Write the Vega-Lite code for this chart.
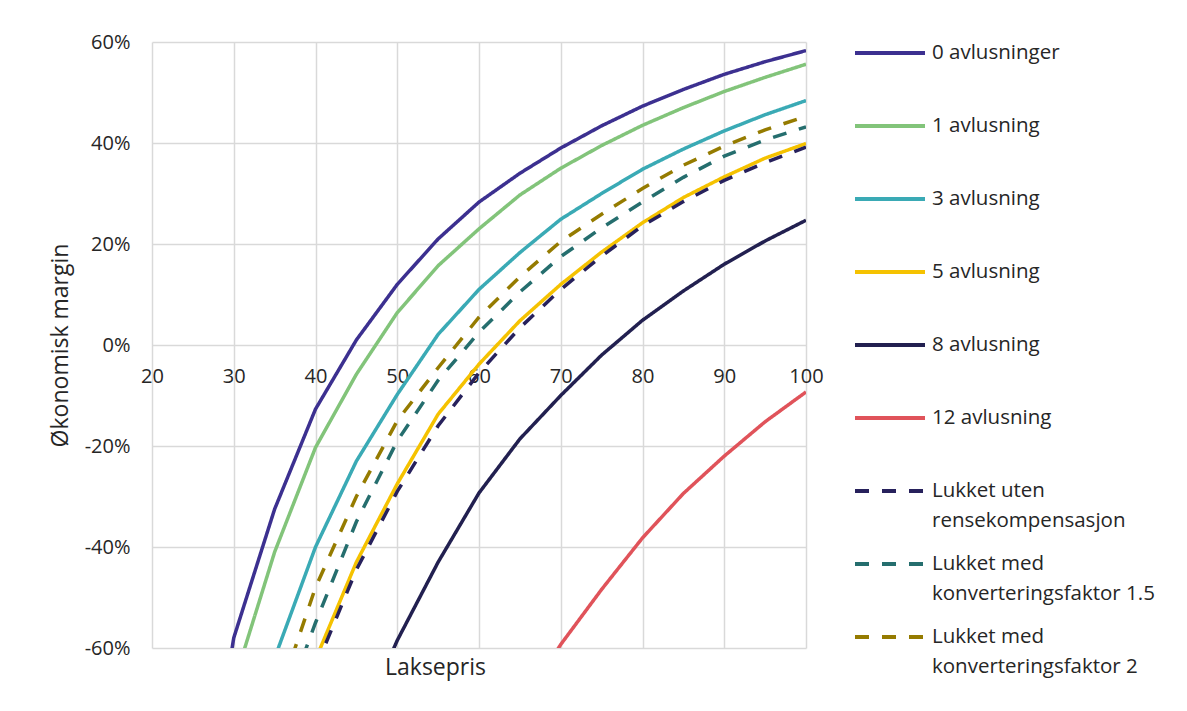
{
  "$schema": "https://vega.github.io/schema/vega-lite/v6.json",
  "width": 654,
  "height": 606,
  "autosize": {"type": "none"},
  "padding": {"left": 152, "top": 42, "right": 381, "bottom": 63},
  "background": "white",
  "config": {"font": "Open Sans", "view": {"stroke": null}},
  "data": {"values": [
    {"serie": "0 avlusninger", "pris": 25, "margin": -108},
    {"serie": "0 avlusninger", "pris": 30, "margin": -58},
    {"serie": "0 avlusninger", "pris": 35, "margin": -32.5},
    {"serie": "0 avlusninger", "pris": 40, "margin": -12.7},
    {"serie": "0 avlusninger", "pris": 45, "margin": 1},
    {"serie": "0 avlusninger", "pris": 50, "margin": 12},
    {"serie": "0 avlusninger", "pris": 55, "margin": 21},
    {"serie": "0 avlusninger", "pris": 60, "margin": 28.3},
    {"serie": "0 avlusninger", "pris": 65, "margin": 34},
    {"serie": "0 avlusninger", "pris": 70, "margin": 39},
    {"serie": "0 avlusninger", "pris": 75, "margin": 43.4},
    {"serie": "0 avlusninger", "pris": 80, "margin": 47.3},
    {"serie": "0 avlusninger", "pris": 85, "margin": 50.6},
    {"serie": "0 avlusninger", "pris": 90, "margin": 53.6},
    {"serie": "0 avlusninger", "pris": 95, "margin": 56.1},
    {"serie": "0 avlusninger", "pris": 100, "margin": 58.3},
    {"serie": "1 avlusning", "pris": 30, "margin": -67},
    {"serie": "1 avlusning", "pris": 35, "margin": -41},
    {"serie": "1 avlusning", "pris": 40, "margin": -20.3},
    {"serie": "1 avlusning", "pris": 45, "margin": -5.8},
    {"serie": "1 avlusning", "pris": 50, "margin": 6.4},
    {"serie": "1 avlusning", "pris": 55, "margin": 15.7},
    {"serie": "1 avlusning", "pris": 60, "margin": 23},
    {"serie": "1 avlusning", "pris": 65, "margin": 29.7},
    {"serie": "1 avlusning", "pris": 70, "margin": 35},
    {"serie": "1 avlusning", "pris": 75, "margin": 39.5},
    {"serie": "1 avlusning", "pris": 80, "margin": 43.5},
    {"serie": "1 avlusning", "pris": 85, "margin": 47},
    {"serie": "1 avlusning", "pris": 90, "margin": 50.2},
    {"serie": "1 avlusning", "pris": 95, "margin": 53},
    {"serie": "1 avlusning", "pris": 100, "margin": 55.6},
    {"serie": "3 avlusning", "pris": 35, "margin": -62},
    {"serie": "3 avlusning", "pris": 40, "margin": -40},
    {"serie": "3 avlusning", "pris": 45, "margin": -23},
    {"serie": "3 avlusning", "pris": 50, "margin": -9.8},
    {"serie": "3 avlusning", "pris": 55, "margin": 2.1},
    {"serie": "3 avlusning", "pris": 60, "margin": 11},
    {"serie": "3 avlusning", "pris": 65, "margin": 18.3},
    {"serie": "3 avlusning", "pris": 70, "margin": 24.9},
    {"serie": "3 avlusning", "pris": 75, "margin": 30},
    {"serie": "3 avlusning", "pris": 80, "margin": 34.8},
    {"serie": "3 avlusning", "pris": 85, "margin": 38.8},
    {"serie": "3 avlusning", "pris": 90, "margin": 42.4},
    {"serie": "3 avlusning", "pris": 95, "margin": 45.6},
    {"serie": "3 avlusning", "pris": 100, "margin": 48.4},
    {"serie": "5 avlusning", "pris": 40, "margin": -62.3},
    {"serie": "5 avlusning", "pris": 45, "margin": -43},
    {"serie": "5 avlusning", "pris": 50, "margin": -27.5},
    {"serie": "5 avlusning", "pris": 55, "margin": -13.7},
    {"serie": "5 avlusning", "pris": 60, "margin": -3.8},
    {"serie": "5 avlusning", "pris": 65, "margin": 4.8},
    {"serie": "5 avlusning", "pris": 70, "margin": 12},
    {"serie": "5 avlusning", "pris": 75, "margin": 18.4},
    {"serie": "5 avlusning", "pris": 80, "margin": 24.2},
    {"serie": "5 avlusning", "pris": 85, "margin": 29.2},
    {"serie": "5 avlusning", "pris": 90, "margin": 33.3},
    {"serie": "5 avlusning", "pris": 95, "margin": 37},
    {"serie": "5 avlusning", "pris": 100, "margin": 39.9},
    {"serie": "8 avlusning", "pris": 45, "margin": -77},
    {"serie": "8 avlusning", "pris": 50, "margin": -58.5},
    {"serie": "8 avlusning", "pris": 55, "margin": -43},
    {"serie": "8 avlusning", "pris": 60, "margin": -29.3},
    {"serie": "8 avlusning", "pris": 65, "margin": -18.6},
    {"serie": "8 avlusning", "pris": 70, "margin": -10},
    {"serie": "8 avlusning", "pris": 75, "margin": -2},
    {"serie": "8 avlusning", "pris": 80, "margin": 4.9},
    {"serie": "8 avlusning", "pris": 85, "margin": 10.7},
    {"serie": "8 avlusning", "pris": 90, "margin": 16},
    {"serie": "8 avlusning", "pris": 95, "margin": 20.6},
    {"serie": "8 avlusning", "pris": 100, "margin": 24.7},
    {"serie": "12 avlusning", "pris": 65, "margin": -72},
    {"serie": "12 avlusning", "pris": 70, "margin": -59.3},
    {"serie": "12 avlusning", "pris": 75, "margin": -48.4},
    {"serie": "12 avlusning", "pris": 80, "margin": -38.2},
    {"serie": "12 avlusning", "pris": 85, "margin": -29.4},
    {"serie": "12 avlusning", "pris": 90, "margin": -22},
    {"serie": "12 avlusning", "pris": 95, "margin": -15.2},
    {"serie": "12 avlusning", "pris": 100, "margin": -9.3},
    {"serie": "Lukket uten rensekompensasjon", "pris": 40, "margin": -64},
    {"serie": "Lukket uten rensekompensasjon", "pris": 45, "margin": -44.5},
    {"serie": "Lukket uten rensekompensasjon", "pris": 50, "margin": -29},
    {"serie": "Lukket uten rensekompensasjon", "pris": 55, "margin": -16},
    {"serie": "Lukket uten rensekompensasjon", "pris": 60, "margin": -5.5},
    {"serie": "Lukket uten rensekompensasjon", "pris": 65, "margin": 3.4},
    {"serie": "Lukket uten rensekompensasjon", "pris": 70, "margin": 11},
    {"serie": "Lukket uten rensekompensasjon", "pris": 75, "margin": 17.6},
    {"serie": "Lukket uten rensekompensasjon", "pris": 80, "margin": 23.6},
    {"serie": "Lukket uten rensekompensasjon", "pris": 85, "margin": 28.4},
    {"serie": "Lukket uten rensekompensasjon", "pris": 90, "margin": 32.6},
    {"serie": "Lukket uten rensekompensasjon", "pris": 95, "margin": 36.1},
    {"serie": "Lukket uten rensekompensasjon", "pris": 100, "margin": 39.2},
    {"serie": "Lukket med konverteringsfaktor 1.5", "pris": 35, "margin": -77},
    {"serie": "Lukket med konverteringsfaktor 1.5", "pris": 40, "margin": -55},
    {"serie": "Lukket med konverteringsfaktor 1.5", "pris": 45, "margin": -35},
    {"serie": "Lukket med konverteringsfaktor 1.5", "pris": 50, "margin": -19},
    {"serie": "Lukket med konverteringsfaktor 1.5", "pris": 55, "margin": -7},
    {"serie": "Lukket med konverteringsfaktor 1.5", "pris": 60, "margin": 2.5},
    {"serie": "Lukket med konverteringsfaktor 1.5", "pris": 65, "margin": 10.5},
    {"serie": "Lukket med konverteringsfaktor 1.5", "pris": 70, "margin": 17.5},
    {"serie": "Lukket med konverteringsfaktor 1.5", "pris": 75, "margin": 23.2},
    {"serie": "Lukket med konverteringsfaktor 1.5", "pris": 80, "margin": 28.3},
    {"serie": "Lukket med konverteringsfaktor 1.5", "pris": 85, "margin": 33.2},
    {"serie": "Lukket med konverteringsfaktor 1.5", "pris": 90, "margin": 37.4},
    {"serie": "Lukket med konverteringsfaktor 1.5", "pris": 95, "margin": 40.6},
    {"serie": "Lukket med konverteringsfaktor 1.5", "pris": 100, "margin": 43.2},
    {"serie": "Lukket med konverteringsfaktor 2", "pris": 35, "margin": -72},
    {"serie": "Lukket med konverteringsfaktor 2", "pris": 40, "margin": -48},
    {"serie": "Lukket med konverteringsfaktor 2", "pris": 45, "margin": -30},
    {"serie": "Lukket med konverteringsfaktor 2", "pris": 50, "margin": -15},
    {"serie": "Lukket med konverteringsfaktor 2", "pris": 55, "margin": -4.5},
    {"serie": "Lukket med konverteringsfaktor 2", "pris": 60, "margin": 5.5},
    {"serie": "Lukket med konverteringsfaktor 2", "pris": 65, "margin": 13.5},
    {"serie": "Lukket med konverteringsfaktor 2", "pris": 70, "margin": 20.5},
    {"serie": "Lukket med konverteringsfaktor 2", "pris": 75, "margin": 25.9},
    {"serie": "Lukket med konverteringsfaktor 2", "pris": 80, "margin": 31},
    {"serie": "Lukket med konverteringsfaktor 2", "pris": 85, "margin": 35.6},
    {"serie": "Lukket med konverteringsfaktor 2", "pris": 90, "margin": 39.4},
    {"serie": "Lukket med konverteringsfaktor 2", "pris": 95, "margin": 42.6},
    {"serie": "Lukket med konverteringsfaktor 2", "pris": 100, "margin": 45.3}
  ]},
  "mark": {"type": "line", "strokeWidth": 3.5, "clip": true},
  "encoding": {
    "x": {
      "field": "pris", "type": "quantitative",
      "scale": {"domain": [20, 100], "nice": false, "zero": false},
      "axis": {
        "title": "Laksepris", "values": [20, 30, 40, 50, 60, 70, 80, 90, 100],
        "grid": true, "gridColor": "#d9d9d9", "gridWidth": 1.5,
        "domain": false, "ticks": false, "labelFlush": false, "labelOverlap": false,
        "labelFontSize": 20, "labelColor": "#262626", "labelPadding": 21,
        "offset": -303,
        "titleFontSize": 23, "titleFontWeight": "normal", "titleColor": "#262626",
        "titleX": 283, "titleY": 311, "titleAlign": "center", "titleBaseline": "top"
      }
    },
    "y": {
      "field": "margin", "type": "quantitative",
      "scale": {"domain": [-60, 60], "nice": false},
      "axis": {
        "title": "Økonomisk margin", "values": [-60, -40, -20, 0, 20, 40, 60],
        "labelExpr": "datum.value + '%'",
        "grid": true, "gridColor": "#d9d9d9", "gridWidth": 1.5,
        "domain": false, "ticks": false, "labelFlush": false, "labelOverlap": false,
        "labelFontSize": 20, "labelColor": "#262626", "labelPadding": 22,
        "titleFontSize": 23, "titleFontWeight": "normal", "titleColor": "#262626", "titlePadding": 12
      }
    },
    "color": {
      "field": "serie", "type": "nominal",
      "scale": {
        "domain": ["0 avlusninger", "1 avlusning", "3 avlusning", "5 avlusning", "8 avlusning", "12 avlusning", "Lukket uten rensekompensasjon", "Lukket med konverteringsfaktor 1.5", "Lukket med konverteringsfaktor 2"],
        "range": ["#3c3090", "#82c47a", "#3aaab5", "#f5c200", "#222050", "#e0535a", "#27215c", "#256e6e", "#957b00"]
      },
      "legend": {
        "title": null, "orient": "right", "offset": 47, "padding": 0,
        "symbolType": "stroke", "symbolSize": 4900, "symbolStrokeWidth": 4,
        "labelFontSize": 20.5, "labelColor": "#262626", "labelLimit": 400, "labelOffset": 5,
        "clipHeight": 22, "rowPadding": 21,
        "labelExpr": "datum.label == 'Lukket uten rensekompensasjon' ? ['Lukket uten', 'rensekompensasjon'] : datum.label == 'Lukket med konverteringsfaktor 1.5' ? ['Lukket med', 'konverteringsfaktor 1.5'] : datum.label == 'Lukket med konverteringsfaktor 2' ? ['Lukket med', 'konverteringsfaktor 2'] : [datum.label, ' ']",
        "encode": {"labels": {"update": {"lineHeight": {"value": 30}}}}
      }
    },
    "strokeDash": {
      "field": "serie", "type": "nominal",
      "scale": {
        "domain": ["0 avlusninger", "1 avlusning", "3 avlusning", "5 avlusning", "8 avlusning", "12 avlusning", "Lukket uten rensekompensasjon", "Lukket med konverteringsfaktor 1.5", "Lukket med konverteringsfaktor 2"],
        "range": [[1, 0], [1, 0], [1, 0], [1, 0], [1, 0], [1, 0], [14, 13], [14, 13], [14, 13]]
      },
      "legend": {
        "title": null, "orient": "right", "offset": 47, "padding": 0,
        "symbolType": "stroke", "symbolSize": 4900, "symbolStrokeWidth": 4,
        "labelFontSize": 20.5, "labelColor": "#262626", "labelLimit": 400, "labelOffset": 5,
        "clipHeight": 22, "rowPadding": 21,
        "labelExpr": "datum.label == 'Lukket uten rensekompensasjon' ? ['Lukket uten', 'rensekompensasjon'] : datum.label == 'Lukket med konverteringsfaktor 1.5' ? ['Lukket med', 'konverteringsfaktor 1.5'] : datum.label == 'Lukket med konverteringsfaktor 2' ? ['Lukket med', 'konverteringsfaktor 2'] : [datum.label, ' ']",
        "encode": {"labels": {"update": {"lineHeight": {"value": 30}}}}
      }
    }
  }
}
